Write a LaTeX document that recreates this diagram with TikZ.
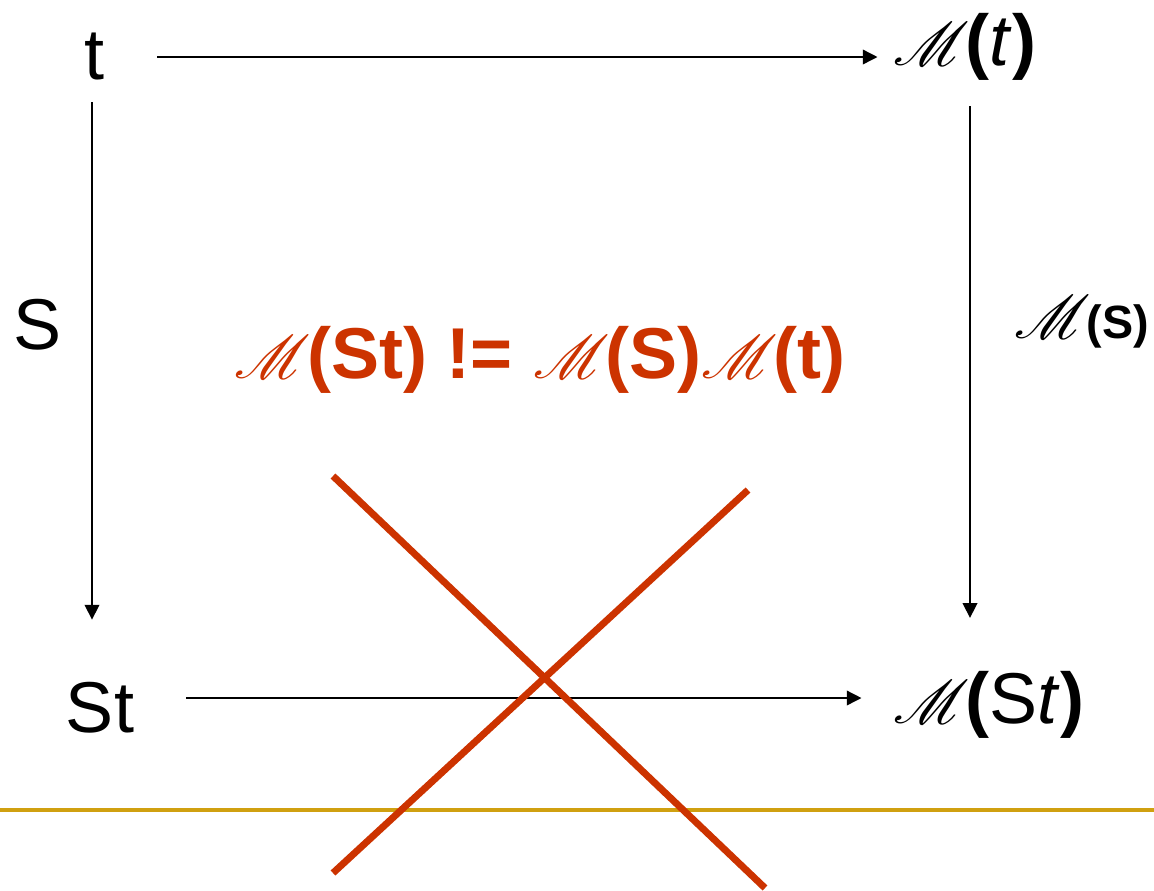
\documentclass[tikz,border=0pt]{standalone}
\usepackage{fontspec}
\setmainfont{Liberation Sans}
\usepackage{mathrsfs}
\DeclareFontFamily{U}{rsfs}{\skewchar\font127 }
\DeclareFontShape{U}{rsfs}{m}{n}{<-> rsfs10}{}
\usepackage{tikz}
\usetikzlibrary{arrows.meta,calc}
\definecolor{crossred}{RGB}{204,51,0}
\definecolor{rulegold}{RGB}{208,160,16}
\newcommand{\calM}{{\fontsize{46}{50}\selectfont$\mathscr{M}$}\kern-3pt}
\tikzset{
  cdterm/.style={inner sep=0pt, font=\fontsize{54}{60}\selectfont},
  cdclaim/.style={cdterm, text=crossred, font=\fontsize{54}{60}\selectfont\bfseries},
  cdedge/.style={-{Triangle[length=11pt,width=11pt]}, line width=1.1pt},
  cdcross/.style={draw=crossred, line width=5.2pt},
  cdrule/.style={draw=rulegold, line width=2.3pt}
}

\begin{document}
\begin{tikzpicture}[x=0.75pt,y=-0.75pt]
  \useasboundingbox (0,0) rectangle (1154,890);
  \node[cdterm] (t) at (95,57) {t};
  \node[cdterm] (Mt) at (965,47) {\calM\textbf{(}\textit{t}\textbf{)}};
  \node[cdterm] (S) at (38,325) {S};
  \node[cdterm] (MS) at (1082,322) {\calM{\fontsize{35}{40}\selectfont\bfseries(S)}};
  \node[cdclaim] (claim) at (540,360) {\calM(St) != \calM(S)\calM(t)};
  \node[cdterm] (St) at (100,708) {St};
  \node[cdterm] (MSt) at (989,705) {\calM\textbf{(}S\textit{t}\textbf{)}};
  % arrows of the square
  \draw[cdedge, shorten <=39pt, shorten >=12pt] (t.east) -- (t.east -| Mt.west);
  \draw[cdedge, shorten <=16pt, shorten >=47pt] ([xshift=-2.25pt]t.south) -- ([xshift=-2.25pt]t.south |- St.north);
  \draw[cdedge, shorten <=19pt, shorten >=40pt] ([xshift=3.75pt]Mt.south) -- ([xshift=3.75pt]Mt.south |- MSt.north);
  \draw[cdedge, shorten <=39pt, shorten >=24pt] ([yshift=7.5pt]St.east) -- ([yshift=7.5pt]St.east -| MSt.west);
  % rule and cross
  \draw[cdrule] (0,810) -- (1154,810);
  \draw[cdcross] (333,476) -- (765,888);
  \draw[cdcross] (748,490) -- (333,873);
\end{tikzpicture}
\end{document}
